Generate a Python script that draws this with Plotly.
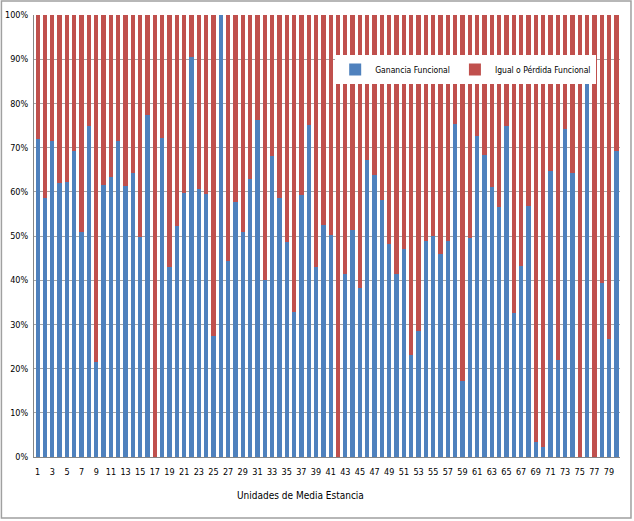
import plotly.graph_objects as go

units = list(range(1, 81))
ganancia = [71.9, 58.7, 71.5, 61.9, 62.3, 69.2, 50.8, 74.8, 21.6, 61.5,
            63.4, 71.4, 61.3, 64.2, 49.8, 77.3, 0.0, 72.2, 43.0, 52.2,
            59.8, 90.6, 60.6, 59.6, 27.4, 100.0, 44.3, 57.7, 50.8, 62.8,
            76.3, 40.1, 68.2, 58.5, 48.7, 32.8, 59.2, 75.2, 43.0, 52.5,
            50.3, 0.0, 41.4, 51.4, 38.3, 67.2, 63.7, 58.1, 48.3, 41.4,
            47.1, 23.0, 28.5, 48.8, 49.9, 45.9, 48.8, 75.4, 17.1, 49.6,
            72.7, 68.3, 61.0, 56.5, 75.0, 32.5, 43.2, 56.8, 3.4, 2.3,
            64.7, 22.0, 74.2, 64.2, 0.0, 85.8, 0.0, 39.4, 26.8, 69.2]
perdida = [round(100 - g, 1) for g in ganancia]
tick_units = list(range(1, 81, 2))
y_ticks = list(range(0, 101, 10))

FONT = "DejaVu Sans Condensed, Liberation Sans Narrow, Liberation Sans, Arial, sans-serif"

fig = go.Figure()
fig.add_trace(go.Bar(x=units, y=ganancia, name="Ganancia Funcional",
                     marker=dict(color="#4F81BD", line=dict(width=0))))
fig.add_trace(go.Bar(x=units, y=perdida, name="Igual o Pérdida Funcional",
                     marker=dict(color="#C0504D", line=dict(width=0))))

W, H = 634, 521
ml, mr, mt, mb = 33.6, 14, 15, 64
pw, ph = W - ml - mr, H - mt - mb

def px(x):
    return (x - ml) / pw

def py(y):
    return (H - mb - y) / ph

fig.update_layout(
    width=W, height=H, barmode="stack", bargap=0.41,
    margin=dict(l=ml, r=mr, t=mt, b=mb, pad=0, autoexpand=False),
    plot_bgcolor="white", paper_bgcolor="white",
    font=dict(family=FONT, size=9, color="#000000"),
    legend=dict(orientation="h", x=px(335), y=py(55), xanchor="left", yanchor="top",
                bgcolor="white", borderwidth=0, font=dict(size=8.5),
                traceorder="normal", itemwidth=30),
    xaxis=dict(range=[0.5, 80.5], tickmode="array", tickvals=tick_units,
               ticktext=[str(t) for t in tick_units], showgrid=False,
               showline=True, linecolor="#868686", linewidth=1, ticks="",
               tickfont=dict(size=9), tickangle=0, automargin=False,
               ticklabelstandoff=6),
    yaxis=dict(range=[0, 100], tickmode="array", tickvals=y_ticks,
               ticktext=[f"{v}%" for v in y_ticks], showgrid=True,
               gridcolor="#A6A6A6", gridwidth=1, showline=True,
               linecolor="#868686", linewidth=1, ticks="", zeroline=False,
               tickfont=dict(size=9), automargin=False, ticklabelstandoff=3),
    annotations=[dict(text="Unidades de Media Estancia", xref="paper", yref="paper",
                      x=px(300), y=py(496), xanchor="center", yanchor="middle",
                      showarrow=False, font=dict(size=10))],
    shapes=[dict(type="rect", xref="paper", yref="paper",
                 x0=px(1), x1=px(631), y0=py(518), y1=py(1),
                 line=dict(color="#A0A0A0", width=1.5), fillcolor="rgba(0,0,0,0)",
                 layer="above")],
)

fig.write_html("out.html", config={"displayModeBar": False},
               post_script="document.body.style.margin='0px';document.body.style.overflow='hidden';")
